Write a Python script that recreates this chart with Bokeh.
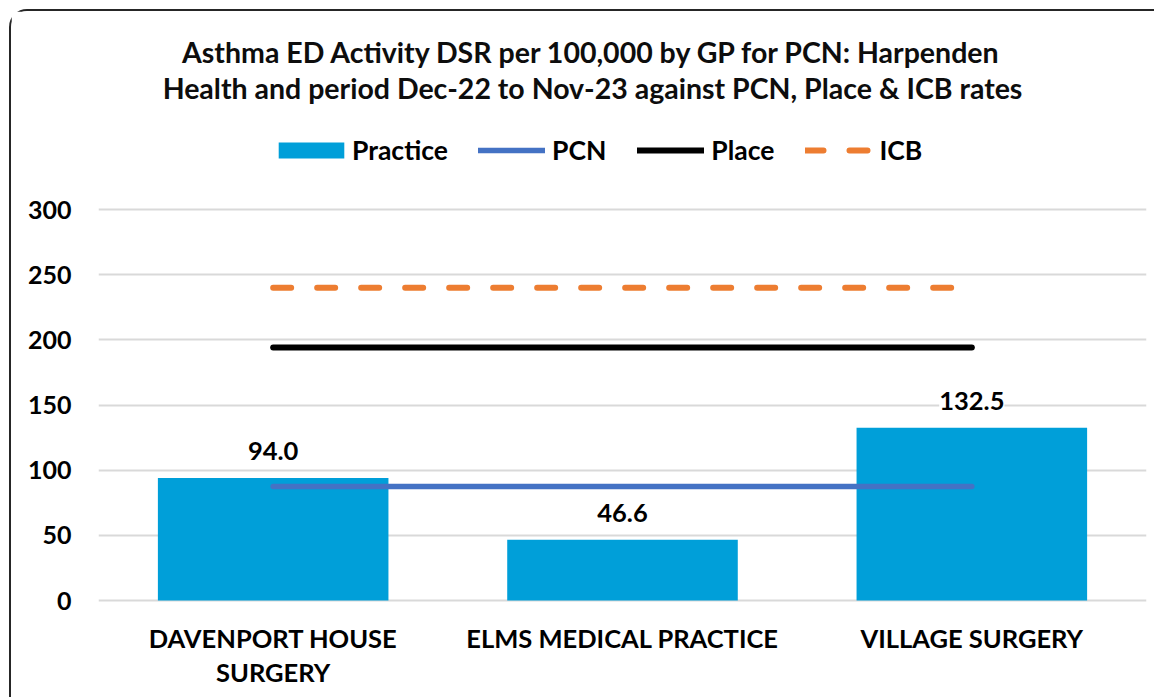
from bokeh.plotting import figure
from bokeh.models import (ColumnDataSource, FactorRange, Range1d, Label, LabelSet,
                          Legend, LegendItem)
from bokeh.core.properties import value
from bokeh.embed import file_html
from bokeh.resources import INLINE

# ---- data ----
categories = ["DAVENPORT HOUSE SURGERY", "ELMS MEDICAL PRACTICE", "VILLAGE SURGERY"]
label_line1 = ["DAVENPORT HOUSE", "ELMS MEDICAL PRACTICE", "VILLAGE SURGERY"]
label_line2 = ["SURGERY", "", ""]
practice = [94.0, 46.6, 132.5]
pcn_rate = 87.5
place_rate = 194.2
icb_rate = 240.0
y_ticks = [0, 50, 100, 150, 200, 250, 300]
title_lines = ["Asthma ED Activity DSR per 100,000 by GP for PCN: Harpenden",
               "Health and period Dec-22 to Nov-23 against PCN, Place & ICB rates"]

FONT = "Lato"
BAR = "#009FD9"
PCN_C = "#4472C4"
PLACE_C = "#000000"
ICB_C = "#ED7D31"

# layout geometry (pixels): canvas placed at page (11, 11) by CSS margin + border
PX_PER_UNIT = 391 / 300.0
ZERO_Y = 600 - 11          # canvas y of value 0
H = 688
W = 1145
y_top = ZERO_Y / PX_PER_UNIT
y_bot = -(H - ZERO_Y) / PX_PER_UNIT

p = figure(width=W, height=H, x_range=FactorRange(*categories, range_padding=0),
           y_range=Range1d(y_bot, y_top), output_backend="svg", toolbar_location=None,
           title=None, min_border=0, min_border_left=87, min_border_right=10,
           min_border_top=0, min_border_bottom=0,
           styles={"margin-left": "9px", "margin-top": "9px",
                   "border-top": "2px solid #262626", "border-left": "2px solid #262626",
                   "border-top-left-radius": "18px"})
p.outline_line_color = None
p.background_fill_color = "white"
p.border_fill_color = "white"

src = ColumnDataSource(dict(cat=categories, val=practice,
                            lab=[f"{v:.1f}" for v in practice],
                            l1=label_line1, l2=label_line2, zero=[0] * len(categories)))
bars = p.vbar(x="cat", top="val", width=0.66, source=src, fill_color=BAR, line_color=None)

xs = [categories[0], categories[-1]]
pcn = p.line(xs, [pcn_rate, pcn_rate], line_color=PCN_C, line_width=5.5, line_cap="round")
place = p.line(xs, [place_rate, place_rate], line_color=PLACE_C, line_width=6, line_cap="round")
icb = p.line(xs, [icb_rate, icb_rate], line_color=ICB_C, line_width=6, line_cap="round",
             line_dash="18 26")

common = dict(text_align="center", text_baseline="middle", text_font=value(FONT),
              text_font_style="bold", text_font_size="25.5px", text_color="#000000")
p.add_layout(LabelSet(x="cat", y="val", text="lab", source=src, y_offset=27,
                      background_fill_color="white", **common))
p.add_layout(LabelSet(x="cat", y="zero", text="l1", source=src, y_offset=-37, **common))
p.add_layout(LabelSet(x="cat", y="zero", text="l2", source=src, y_offset=-71, **common))

# axes
p.xaxis.visible = False
p.yaxis.ticker = y_ticks
p.yaxis.axis_line_color = None
p.yaxis.major_tick_line_color = None
p.yaxis.minor_tick_line_color = None
p.yaxis.major_tick_out = 0
p.yaxis.major_label_standoff = 27
p.yaxis.major_label_text_font = FONT
p.yaxis.major_label_text_font_style = "bold"
p.yaxis.major_label_text_font_size = "25px"
p.yaxis.major_label_text_color = "#000000"

p.xgrid.grid_line_color = None
p.ygrid.grid_line_color = "#D9D9D9"
p.ygrid.grid_line_width = 2

# title (screen units relative to frame bottom-left)
for i, t in enumerate(title_lines):
    p.add_layout(Label(x=494, y=(699 - 51) - 36 * i, x_units="screen", y_units="screen",
                       text=t, text_align="center", text_baseline="middle",
                       text_font=FONT, text_font_style="bold", text_font_size="28.5px",
                       text_color="#0d0d0d"))

# legend (two parts so the bar swatch can be sized like the original)
leg_common = dict(orientation="horizontal", padding=0, margin=0, border_line_color=None,
                  background_fill_alpha=0, label_text_font=FONT,
                  label_text_font_style="bold", label_text_font_size="26.5px",
                  label_text_color="#000000")
legend_a = Legend(items=[LegendItem(label="Practice", renderers=[bars])],
                  location=(172, 533), glyph_width=82, glyph_height=20, label_standoff=0,
                  **leg_common)
legend_b = Legend(items=[LegendItem(label="PCN", renderers=[pcn]),
                         LegendItem(label="Place", renderers=[place]),
                         LegendItem(label="ICB", renderers=[icb])],
                  location=(380, 533), glyph_width=67, glyph_height=20, label_standoff=7,
                  spacing=31, **leg_common)
p.add_layout(legend_a, "center")
p.add_layout(legend_b, "center")

open("out.html", "w").write(file_html(p, INLINE))
